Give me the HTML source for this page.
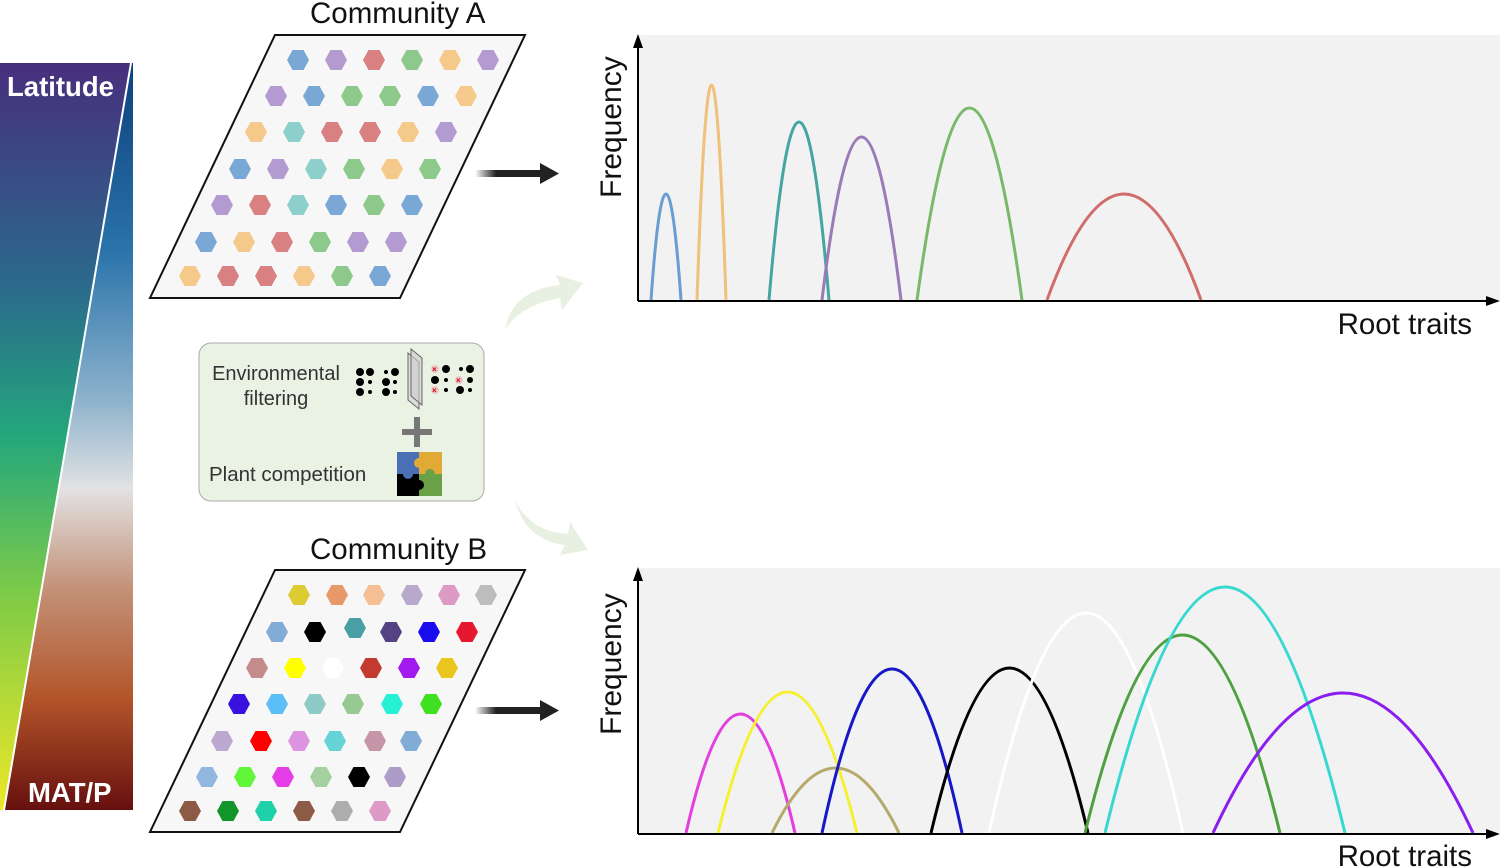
<!DOCTYPE html>
<html><head><meta charset="utf-8"><style>
body{margin:0;background:#fff;width:1500px;height:868px;overflow:hidden}
svg{display:block;font-family:"Liberation Sans",sans-serif}
</style></head><body>
<svg width="1500" height="868" viewBox="0 0 1500 868">
<defs>
<linearGradient id="gl" x1="0" y1="0" x2="0" y2="1">
<stop offset="0" stop-color="#472f7d"/><stop offset="0.3" stop-color="#2b6a8c"/><stop offset="0.5" stop-color="#24a77c"/><stop offset="0.72" stop-color="#82cc46"/><stop offset="1" stop-color="#ece727"/></linearGradient>
<linearGradient id="gr" x1="0" y1="0" x2="0" y2="1">
<stop offset="0" stop-color="#0e3f7e"/><stop offset="0.25" stop-color="#2a73aa"/><stop offset="0.45" stop-color="#8cb2cc"/><stop offset="0.57" stop-color="#e2e2e2"/><stop offset="0.7" stop-color="#c4937a"/><stop offset="0.85" stop-color="#b3552a"/><stop offset="1" stop-color="#66100f"/></linearGradient>
<linearGradient id="ar" x1="0" y1="0" x2="1" y2="0"><stop offset="0" stop-color="#222" stop-opacity="0"/><stop offset="0.3" stop-color="#222"/></linearGradient>
<polygon id="h" points="-11,0 -5.5,-10 5.5,-10 11,0 5.5,10 -5.5,10"/>
</defs>
<rect x="0" y="63" width="133" height="747" fill="url(#gr)"/>
<polygon points="0,63 133,63 131,63 4,810 0,810" fill="url(#gl)"/>
<polygon points="0,63 130,63 130,66 0,66" fill="#472f7d"/>
<line x1="131" y1="63" x2="4" y2="810" stroke="#fff" stroke-width="2"/>
<text x="7" y="96" font-size="27.5" font-weight="bold" fill="#fff">Latitude</text>
<text x="28" y="802" font-size="27.5" font-weight="bold" fill="#fff">MAT/P</text>

<text x="310" y="23" font-size="29.5" fill="#111">Community A</text>
<polygon points="275,35 525,35 400,298 150,298" fill="#f7f7f7" stroke="#111" stroke-width="2"/>
<g>
<use href="#h" x="298" y="60" fill="#7aa8d6"/><use href="#h" x="336" y="60" fill="#b39ad0"/><use href="#h" x="374" y="60" fill="#d98080"/><use href="#h" x="412" y="60" fill="#8cc98a"/><use href="#h" x="450" y="60" fill="#f5c98a"/><use href="#h" x="488" y="60" fill="#b39ad0"/>
<use href="#h" x="276" y="96" fill="#b39ad0"/><use href="#h" x="314" y="96" fill="#7aa8d6"/><use href="#h" x="352" y="96" fill="#8cc98a"/><use href="#h" x="390" y="96" fill="#8cc98a"/><use href="#h" x="428" y="96" fill="#7aa8d6"/><use href="#h" x="466" y="96" fill="#f5c98a"/>
<use href="#h" x="256" y="132" fill="#f5c98a"/><use href="#h" x="294" y="132" fill="#8dd0cb"/><use href="#h" x="332" y="132" fill="#d98080"/><use href="#h" x="370" y="132" fill="#d98080"/><use href="#h" x="408" y="132" fill="#f5c98a"/><use href="#h" x="446" y="132" fill="#b39ad0"/>
<use href="#h" x="240" y="169" fill="#7aa8d6"/><use href="#h" x="278" y="169" fill="#b39ad0"/><use href="#h" x="316" y="169" fill="#8dd0cb"/><use href="#h" x="354" y="169" fill="#8cc98a"/><use href="#h" x="392" y="169" fill="#f5c98a"/><use href="#h" x="430" y="169" fill="#8cc98a"/>
<use href="#h" x="222" y="205" fill="#b39ad0"/><use href="#h" x="260" y="205" fill="#d98080"/><use href="#h" x="298" y="205" fill="#8dd0cb"/><use href="#h" x="336" y="205" fill="#7aa8d6"/><use href="#h" x="374" y="205" fill="#8cc98a"/><use href="#h" x="412" y="205" fill="#7aa8d6"/>
<use href="#h" x="206" y="242" fill="#7aa8d6"/><use href="#h" x="244" y="242" fill="#f5c98a"/><use href="#h" x="282" y="242" fill="#d98080"/><use href="#h" x="320" y="242" fill="#8cc98a"/><use href="#h" x="358" y="242" fill="#b39ad0"/><use href="#h" x="396" y="242" fill="#b39ad0"/>
<use href="#h" x="190" y="276" fill="#f5c98a"/><use href="#h" x="228" y="276" fill="#d98080"/><use href="#h" x="266" y="276" fill="#d98080"/><use href="#h" x="304" y="276" fill="#f5c98a"/><use href="#h" x="342" y="276" fill="#8cc98a"/><use href="#h" x="380" y="276" fill="#7aa8d6"/>
</g>
<rect x="475" y="170" width="70" height="7" fill="url(#ar)"/>
<polygon points="540,163 559,173.5 540,184" fill="#222"/>

<text x="310" y="559" font-size="29.5" fill="#111">Community B</text>
<polygon points="275,570 525,570 400,832 150,832" fill="#f7f7f7" stroke="#111" stroke-width="2"/>
<g>
<use href="#h" x="299" y="595" fill="#dccb32"/><use href="#h" x="337" y="595" fill="#e8996a"/><use href="#h" x="374" y="595" fill="#f5be95"/><use href="#h" x="412" y="595" fill="#b8a8cc"/><use href="#h" x="449" y="595" fill="#dc9ac4"/><use href="#h" x="486" y="595" fill="#bdbdbd"/>
<use href="#h" x="277" y="632" fill="#80acd6"/><use href="#h" x="315" y="632" fill="#000"/><use href="#h" x="355" y="628" fill="#4a9fa6"/><use href="#h" x="391" y="632" fill="#554285"/><use href="#h" x="429" y="632" fill="#1a0cf0"/><use href="#h" x="467" y="632" fill="#e5182f"/>
<use href="#h" x="257" y="668" fill="#c48c8c"/><use href="#h" x="295" y="668" fill="#ffff00"/><use href="#h" x="333" y="668" fill="#fff"/><use href="#h" x="371" y="668" fill="#c33a30"/><use href="#h" x="409" y="668" fill="#a21af0"/><use href="#h" x="447" y="668" fill="#e9c51d"/>
<use href="#h" x="239" y="704" fill="#3a10de"/><use href="#h" x="277" y="704" fill="#5bbef7"/><use href="#h" x="315" y="704" fill="#8fcbc6"/><use href="#h" x="353" y="704" fill="#99c992"/><use href="#h" x="392" y="704" fill="#28f0d4"/><use href="#h" x="431" y="704" fill="#3fe020"/>
<use href="#h" x="222" y="741" fill="#bba9d2"/><use href="#h" x="261" y="741" fill="#ff0000"/><use href="#h" x="299" y="741" fill="#dd93e0"/><use href="#h" x="335" y="741" fill="#66d3d6"/><use href="#h" x="375" y="741" fill="#c695a8"/><use href="#h" x="411" y="741" fill="#80acd6"/>
<use href="#h" x="207" y="777" fill="#92b7de"/><use href="#h" x="245" y="777" fill="#62f63a"/><use href="#h" x="283" y="777" fill="#e63ee6"/><use href="#h" x="321" y="777" fill="#a5d1a0"/><use href="#h" x="359" y="777" fill="#000"/><use href="#h" x="395" y="777" fill="#ad9cc8"/>
<use href="#h" x="190" y="811" fill="#8d5a45"/><use href="#h" x="228" y="811" fill="#12962a"/><use href="#h" x="266" y="811" fill="#1fd1a8"/><use href="#h" x="304" y="811" fill="#8d5a45"/><use href="#h" x="342" y="811" fill="#adadad"/><use href="#h" x="380" y="811" fill="#dd9ac6"/>
</g>
<rect x="475" y="707" width="70" height="7" fill="url(#ar)"/>
<polygon points="540,700 559,710.5 540,721" fill="#222"/>

<rect x="199" y="343" width="285" height="158" rx="12" fill="#eaf2e4" stroke="#aaa" stroke-width="1"/>
<text x="276" y="380" font-size="20" fill="#333" text-anchor="middle">Environmental</text>
<text x="276" y="405" font-size="20" fill="#333" text-anchor="middle">filtering</text>
<text x="209" y="481" font-size="20.5" fill="#333">Plant competition</text>
<g fill="#000">
<circle cx="360" cy="372" r="4"/><circle cx="370" cy="372" r="4"/><circle cx="386" cy="372" r="2"/><circle cx="395" cy="372" r="4"/>
<circle cx="360" cy="382" r="4"/><circle cx="370" cy="382" r="2"/><circle cx="386" cy="382" r="4"/><circle cx="395" cy="382" r="2"/>
<circle cx="360" cy="392" r="4"/><circle cx="370" cy="392" r="2"/><circle cx="386" cy="392" r="4"/><circle cx="395" cy="392" r="2"/>
<circle cx="446" cy="369" r="4"/><circle cx="461" cy="369" r="2"/><circle cx="470" cy="369" r="4"/>
<circle cx="435" cy="380" r="4"/><circle cx="446" cy="380" r="2"/><circle cx="470" cy="380" r="3"/>
<circle cx="446" cy="390" r="2"/><circle cx="460" cy="390" r="4"/><circle cx="470" cy="390" r="2"/>
</g>
<g fill="#e8c8cc"><circle cx="435" cy="369" r="4"/><circle cx="459" cy="380" r="4"/><circle cx="435" cy="390" r="4"/></g>
<g fill="#d00" font-size="8" font-weight="bold"><text x="432" y="372">×</text><text x="456" y="383">×</text><text x="432" y="393">×</text></g>
<polygon points="408,353 419,362 419,409 408,400" fill="#ddd" stroke="#666" stroke-width="1"/>
<polygon points="411,349 422,358 422,405 411,396" fill="#ccc" fill-opacity="0.6" stroke="#666" stroke-width="1"/>
<rect x="402" y="429" width="30" height="6" fill="#777"/><rect x="414" y="417" width="6" height="30" fill="#777"/>
<rect x="397" y="452" width="22" height="22" fill="#4a6fb5"/><rect x="419" y="452" width="23" height="22" fill="#e1a935"/>
<rect x="397" y="474" width="22" height="22" fill="#000"/><rect x="419" y="474" width="23" height="22" fill="#6aa046"/>
<circle cx="419" cy="463" r="5" fill="#e1a935"/><circle cx="419" cy="485" r="5" fill="#000"/><circle cx="430" cy="474" r="5" fill="#6aa046"/><circle cx="408" cy="474" r="5" fill="#4a6fb5"/>

<path d="M505,330 Q512,290 560,285 L556,275 L583,283 L562,310 L560,298 Q520,305 505,330 Z" fill="#e8f0e2"/>
<path d="M515,500 Q525,540 565,545 L560,555 L588,550 L570,522 L568,534 Q530,532 515,500 Z" fill="#e8f0e2"/>

<rect x="639" y="35" width="861" height="265" fill="#f2f2f2"/>
<g fill="none" stroke-width="3">
<path d="M651,300 Q666,88 681,300" stroke="#6a9ed0"/>
<path d="M697,300 Q711.5,-130 726,300" stroke="#f0c07c"/>
<path d="M769,300 Q799,-56 829,300" stroke="#45a5a0"/>
<path d="M822,300 Q861.5,-26 901,300" stroke="#9b7ab8"/>
<path d="M917,300 Q969.5,-84 1022,300" stroke="#7ab86a"/>
<path d="M1047,300 Q1124,88 1201,300" stroke="#d06c6a"/>
</g>
<line x1="638" y1="301" x2="1490" y2="301" stroke="#000" stroke-width="2"/>
<line x1="638" y1="301" x2="638" y2="44" stroke="#000" stroke-width="2"/>
<polygon points="638,34 633,48 643,48" fill="#000"/><polygon points="1500,301 1486,296 1486,306" fill="#000"/>
<text x="621" y="198" font-size="30" fill="#111" transform="rotate(-90 621 198)">Frequency</text>
<text x="1472" y="334" font-size="29.5" fill="#111" text-anchor="end">Root traits</text>

<rect x="639" y="568" width="861" height="265" fill="#f2f2f2"/>
<g fill="none" stroke-width="3">
<path d="M686,833 Q740.5,595 795,833" stroke="#e23ee0"/>
<path d="M718,833 Q787.5,551 857,833" stroke="#f5f032"/>
<path d="M772,833 Q835.5,703 899,833" stroke="#b5aa6a"/>
<path d="M822,833 Q892,505 962,833" stroke="#1717c8"/>
<path d="M931,833 Q1009.5,503 1088,833" stroke="#000"/>
<path d="M989,833 Q1086,393 1183,833" stroke="#fff"/>
<path d="M1085,833 Q1182.5,437 1280,833" stroke="#4ea040"/>
<path d="M1105,833 Q1225,341 1345,833" stroke="#38d8d0"/>
<path d="M1213,833 Q1343,553 1473,833" stroke="#8a1ef0"/>
</g>
<line x1="638" y1="834" x2="1490" y2="834" stroke="#000" stroke-width="2"/>
<line x1="638" y1="834" x2="638" y2="577" stroke="#000" stroke-width="2"/>
<polygon points="638,567 633,581 643,581" fill="#000"/><polygon points="1500,834 1486,829 1486,839" fill="#000"/>
<text x="621" y="735" font-size="30" fill="#111" transform="rotate(-90 621 735)">Frequency</text>
<text x="1472" y="866" font-size="29.5" fill="#111" text-anchor="end">Root traits</text>
</svg>
</body></html>
